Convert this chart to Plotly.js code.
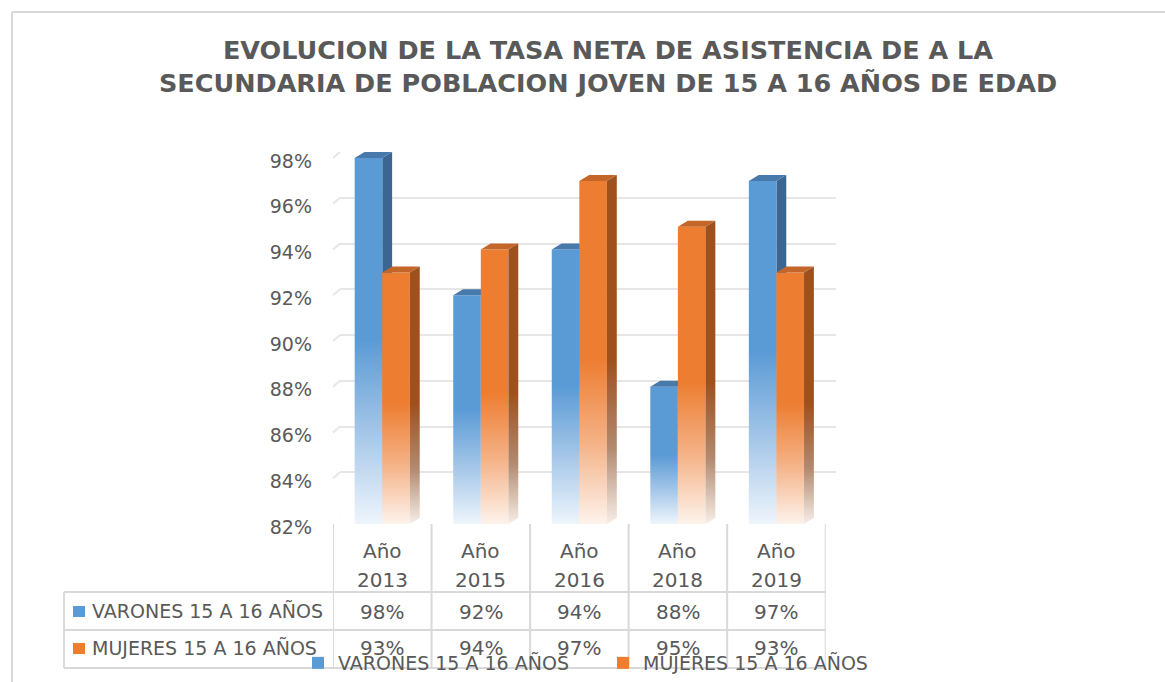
<!DOCTYPE html>
<html>
<head>
<meta charset="utf-8">
<script src="https://cdn.plot.ly/plotly-3.0.1.min.js"></script>
<style>
  html, body { margin: 0; padding: 0; background: #ffffff; }
  #chart { width: 1165px; height: 682px; }
</style>
</head>
<body>
<div id="chart"></div>
<script>
// ---- data ----
const categories = ['Año 2013', 'Año 2015', 'Año 2016', 'Año 2018', 'Año 2019'];
const varones = [98, 92, 94, 88, 97];
const mujeres = [93, 94, 97, 95, 93];
const seriesNames = ['VARONES 15 A 16 AÑOS', 'MUJERES 15 A 16 AÑOS'];
const yTickVals = [82, 84, 86, 88, 90, 92, 94, 96, 98];
const yTickText = yTickVals.map(v => v + '%');
const titleText = 'EVOLUCION DE LA TASA NETA DE ASISTENCIA DE A LA<br>SECUNDARIA DE POBLACION JOVEN DE 15 A 16 AÑOS DE EDAD';

// ---- layout helpers (pixel -> paper) ----
const W = 1165, H = 682;
const DEPTH_Y = 6;                              // vertical depth shift of the back wall (px)
const PL = 333, PR = 836, PT = 152, PB = 524;   // paper (plot) area in pixels
const FRONT_T = PT + DEPTH_Y;                   // top of the front (bar) plane
const BAR_R = 825.7;                            // right edge of the front (bar) plane
const BACK_L = 340;                             // left edge of the back wall
const px = x => (x - PL) / (PR - PL);
const py = y => (PB - y) / (PB - PT);
const yMin = yTickVals[0], yMax = yTickVals[yTickVals.length - 1];
const depthVal = DEPTH_Y / ((PB - FRONT_T) / (yMax - yMin));

const FONT = 'DejaVu Sans';
const GREY = '#595959';
const LINE = '#d9d9d9';
const BLUE = '#5b9bd5', BLUE_SIDE = '#3a6691', BLUE_TOP = '#4779ab';
const ORANGE = '#ed7d31', ORANGE_SIDE = '#9e501d', ORANGE_TOP = '#c4662a';

const common = { x: categories, type: 'bar', hoverinfo: 'skip', xaxis: 'x2', yaxis: 'y2' };
const data = [
  Object.assign({}, common, { y: varones, offset: 0.0, width: 0.1, marker: { color: BLUE_SIDE }, showlegend: false, name: 'vs' }),
  Object.assign({}, common, { y: varones, offset: -0.28, width: 0.28, marker: { color: BLUE }, name: seriesNames[0] }),
  Object.assign({}, common, { y: mujeres, offset: 0.0, width: 0.28, marker: { color: ORANGE }, name: seriesNames[1] }),
  Object.assign({}, common, { y: mujeres, offset: 0.28, width: 0.1, marker: { color: ORANGE_SIDE }, showlegend: false, name: 'ms' })
];

const shapes = [];
const line = (x0, y0, x1, y1, xref, yref, color, width) => shapes.push({
  type: 'line', xref: xref || 'paper', yref: yref || 'paper', x0, y0, x1, y1,
  line: { color: color || LINE, width: width || 2 }, layer: 'above'
});
// chart border (left + top)
line(px(12), py(12), px(12), py(H + 5));
line(px(12), py(12), px(W + 5), py(12));
// table horizontals
[592, 630, 668].forEach(yy => line(px(64), py(yy), px(BAR_R), py(yy)));
// table left edge
line(px(64), py(592), px(64), py(668));
// category boundaries
for (let i = 0; i <= categories.length; i++) {
  line(i - 0.5, py(PB), i - 0.5, py(668), 'x2');
}
// small depth connectors of the back wall gridlines
yTickVals.forEach(v => shapes.push({
  type: 'line', xref: 'paper', yref: 'y', x0: px(PL), y0: v - depthVal, x1: px(BACK_L), y1: v,
  line: { color: '#e6e6e6', width: 2 }, layer: 'below'
}));
// legend keys inside table
[[606, 617, BLUE], [643, 654, ORANGE]].forEach(k => shapes.push({
  type: 'rect', xref: 'paper', yref: 'paper', x0: px(73), x1: px(85), y0: py(k[1]), y1: py(k[0]),
  fillcolor: k[2], line: { width: 0 }
}));

const annotations = [];
const ann = (x, y, text, xref, xanchor, size) => annotations.push({
  x, y, text, xref: xref || 'paper', yref: 'paper', xanchor: xanchor || 'center', yanchor: 'middle',
  showarrow: false, font: { family: FONT, size: size || 20, color: GREY }
});
categories.forEach((c, i) => {
  const parts = c.split(' ');
  ann(c, py(550.5), parts[0], 'x2');
  ann(c, py(580), parts[1], 'x2');
  ann(c, py(611.5), varones[i] + '%', 'x2');
  ann(c, py(648), mujeres[i] + '%', 'x2');
});
ann(px(90), py(611), seriesNames[0], 'paper', 'left', 19);
ann(px(90), py(648), seriesNames[1], 'paper', 'left', 19);

const layout = {
  width: W, height: H,
  paper_bgcolor: '#ffffff', plot_bgcolor: 'rgba(0,0,0,0)',
  margin: { l: PL, r: W - PR, t: PT, b: H - PB, pad: 0, autoexpand: false },
  barmode: 'overlay',
  title: {
    text: titleText, x: 608 / W, xanchor: 'center', xref: 'container',
    y: 1 - 59 / H, yanchor: 'middle', yref: 'container',
    font: { family: FONT, size: 25.5, color: GREY, weight: 'bold' }
  },
  // back wall (gridlines only)
  xaxis: {
    domain: [px(BACK_L), 1], range: [0, 1], anchor: 'y',
    showticklabels: false, showgrid: false, zeroline: false, showline: false, ticks: ''
  },
  yaxis: {
    domain: [py(PB - DEPTH_Y), 1], range: [yMin, yMax], anchor: 'x',
    tickvals: yTickVals, showticklabels: false,
    showgrid: true, gridcolor: '#e6e6e6', gridwidth: 2, zeroline: false, showline: false, ticks: ''
  },
  // front plane (bars)
  xaxis2: {
    type: 'category', domain: [0, px(BAR_R)], range: [-0.5, categories.length - 0.5], anchor: 'y2',
    showticklabels: false, showgrid: false, zeroline: false, showline: false, ticks: ''
  },
  yaxis2: {
    domain: [0, py(FRONT_T)], range: [yMin, yMax], anchor: 'x2',
    tickvals: yTickVals, ticktext: yTickText,
    showgrid: false, zeroline: false, showline: false,
    ticks: '', ticklabelstandoff: 20, ticklabelshift: 3,
    tickfont: { family: FONT, size: 19, color: GREY }
  },
  showlegend: true,
  legend: {
    orientation: 'h', x: px(298), xanchor: 'left', y: py(663), yanchor: 'middle',
    bgcolor: 'rgba(0,0,0,0)', font: { family: FONT, size: 19, color: GREY },
    entrywidth: 260, entrywidthmode: 'pixels', itemwidth: 30
  },
  shapes, annotations
};

const gd = document.getElementById('chart');
Plotly.newPlot(gd, data, layout, { staticPlot: true, displayModeBar: false }).then(() => {
  const NS = 'http://www.w3.org/2000/svg';
  const svg = gd.querySelector('svg.main-svg');
  let defs = svg.querySelector('defs');
  if (!defs) { defs = document.createElementNS(NS, 'defs'); svg.insertBefore(defs, svg.firstChild); }
  const ya = gd._fullLayout.yaxis2;
  const yBot = ya.l2p(ya.range[0]);
  const palettes = [
    [[0, BLUE_SIDE], [0.5, BLUE_SIDE], [0.78, '#8fa9c4'], [1, '#edf2f7']],
    [[0, BLUE], [0.5, BLUE], [0.75, '#a4c6e8'], [1, '#eef5fc']],
    [[0, ORANGE], [0.52, ORANGE], [0.76, '#f4b185'], [1, '#fdf3ec']],
    [[0, ORANGE_SIDE], [0.52, ORANGE_SIDE], [0.78, '#b28a70'], [1, '#f7eee8']]
  ];
  const topColors = [null, BLUE_TOP, ORANGE_TOP, null];
  const sideWidthPx = gd._fullLayout.xaxis2._m * data[0].width;
  const sub = gd.querySelector('.subplot.x2y2');
  if (!sub) return;
  sub.querySelectorAll('[clip-path]').forEach(el => el.removeAttribute('clip-path'));
  const traces = sub.querySelectorAll('.barlayer .trace');
  traces.forEach((t, i) => {
    const vals = data[i].y;
    t.querySelectorAll('g.point').forEach((pt, j) => {
      const p = pt.querySelector('path');
      if (!p) return;
      const bb = p.getBBox();
      const x0 = bb.x, x1 = bb.x + bb.width;
      const yTop = ya.l2p(vals[j]);
      const isSide = (i === 0 || i === 3);
      if (isSide) {
        p.setAttribute('d', `M${x0},${yTop}L${x1},${yTop - DEPTH_Y}L${x1},${yBot - DEPTH_Y}L${x0},${yBot}Z`);
      } else {
        p.setAttribute('d', `M${x0},${yTop}H${x1}V${yBot}H${x0}Z`);
      }
      const id = 'grad_' + i + '_' + j;
      const lg = document.createElementNS(NS, 'linearGradient');
      lg.setAttribute('id', id);
      lg.setAttribute('gradientUnits', 'userSpaceOnUse');
      lg.setAttribute('x1', '0'); lg.setAttribute('x2', '0');
      lg.setAttribute('y1', String(yTop)); lg.setAttribute('y2', String(yBot));
      palettes[i].forEach(s => {
        const st = document.createElementNS(NS, 'stop');
        st.setAttribute('offset', s[0]);
        st.setAttribute('stop-color', s[1]);
        lg.appendChild(st);
      });
      defs.appendChild(lg);
      p.style.fill = 'url(#' + id + ')';
      p.style.stroke = 'none';
      if (topColors[i]) {
        const top = document.createElementNS(NS, 'path');
        top.setAttribute('d', `M${x0},${yTop}L${x0 + sideWidthPx},${yTop - DEPTH_Y}L${x1 + sideWidthPx},${yTop - DEPTH_Y}L${x1},${yTop}Z`);
        top.style.fill = topColors[i];
        top.style.stroke = 'none';
        pt.appendChild(top);
      }
    });
  });
});
</script>
</body>
</html>
